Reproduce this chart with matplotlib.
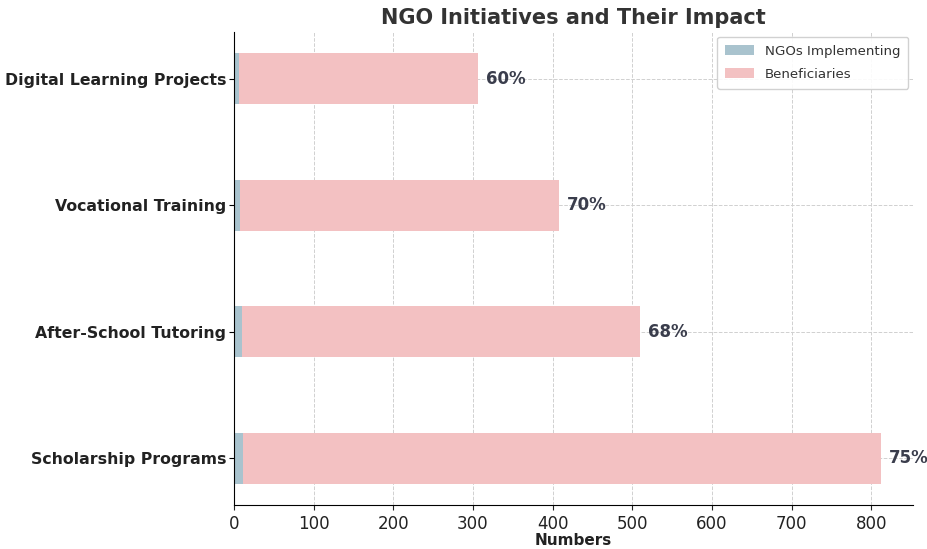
import matplotlib.pyplot as plt

initiatives = ['Scholarship Programs', 'After-School Tutoring', 'Vocational Training', 'Digital Learning Projects']
ngos = [12, 10, 8, 7]
beneficiaries = [800, 500, 400, 300]
success = ['75%', '68%', '70%', '60%']

fig = plt.figure(figsize=(9.28, 5.49), dpi=100)
ax = fig.add_axes([0.252, 0.080, 0.732, 0.862])

ax.barh(initiatives, ngos, height=0.4, color='#a9c3ce', label='NGOs Implementing', zorder=2)
ax.barh(initiatives, beneficiaries, height=0.4, left=ngos, color='#f3c1c2',
        label='Beneficiaries', zorder=2)

for i, (n, b, s) in enumerate(zip(ngos, beneficiaries, success)):
    ax.text(n + b + 10, i, s, va='center', ha='left', fontsize=12,
            fontweight='bold', color='#3a3d4c')

ax.set_title('NGO Initiatives and Their Impact', fontsize=15, fontweight='bold', color='#333333')
ax.set_xlabel('Numbers', fontsize=11, fontweight='bold', color='#222222', labelpad=0)
ax.grid(True, linestyle='--', color='#d0d0d0', linewidth=0.7, zorder=0)
ax.set_axisbelow(True)
for side in ['top', 'right']:
    ax.spines[side].set_visible(False)
ax.tick_params(axis='x', labelsize=12, colors='#222222')
ax.tick_params(axis='y', labelsize=11.3, pad=2)
for lbl in ax.get_yticklabels():
    lbl.set_fontweight('bold')
    lbl.set_color('#222222')

leg = ax.legend(loc='upper right', fontsize=9.6, bbox_to_anchor=(1.0, 1.0),
                borderaxespad=0.35, borderpad=0.6, labelspacing=0.75,
                handlelength=2.2, framealpha=0.9)
for t in leg.get_texts():
    t.set_color('#333333')

fig.savefig('out.png', dpi=100)
